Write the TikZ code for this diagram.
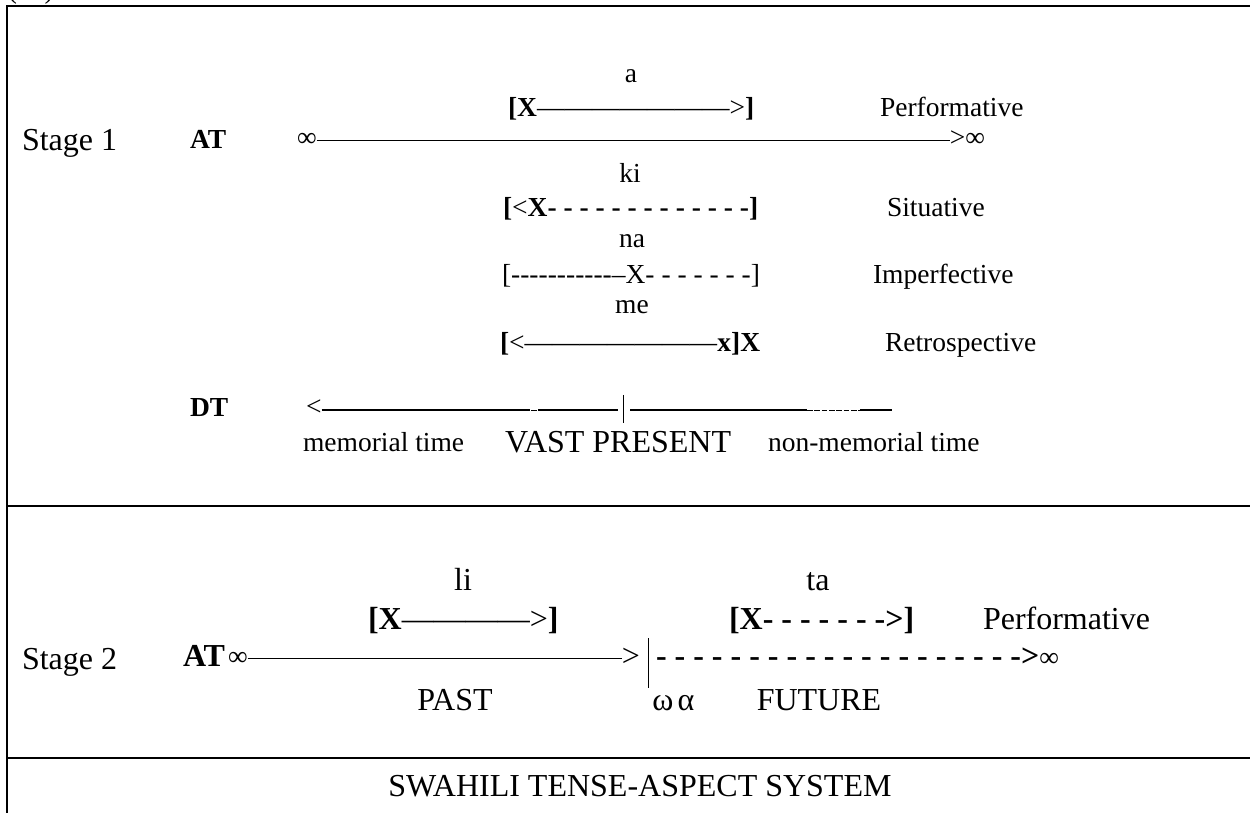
\documentclass[tikz,border=0pt]{standalone}
\usepackage{fontspec}
\setmainfont{Liberation Serif}
\newfontfamily\tnr{Liberation Serif}
\begin{document}
\begin{tikzpicture}[x=0.6pt,y=-0.6pt,
  every node/.style={inner sep=0pt,outer sep=0pt},
  twelve/.style={font=\tnr\fontsize{16.5}{19.8}\selectfont},
  fourteen/.style={font=\tnr\fontsize{19.2}{23}\selectfont},
  lbl/.style={twelve,anchor=base},
  row/.style={twelve,anchor=base west},
  rowb/.style={fourteen,anchor=base west},
  frame/.style={line width=1.2pt},
  tl/.style={line width=0.7pt},
  tick/.style={line width=0.6pt}]
\useasboundingbox (0,0) rectangle (1250,813);
% frame
\draw[frame] (7,813) -- (7,6) -- (1250,6);
\draw[frame] (7,506) -- (1250,506);
\draw[frame] (7,758) -- (1250,758);
\node[twelve,anchor=base west] (num) at (8,-1.5) {(\phantom{00})};
% ---------- Stage 1
\node[rowb] (s1) at (22,151) {Stage 1};
\node[row] (at1) at (190,149) {\textbf{AT}};
\node[row] (inf1) at (297,147) {∞};
\node[twelve,anchor=base east] (inf1r) at (985,147) {>∞};
\draw[tl] (inf1.east) -- (inf1r.west |- inf1.east);
\node[lbl] (la) at (631,83) {a};
\node[row] (r1) at (508,117) {\textbf{[X}———————>\textbf{]}};
\node[row] (p1) at (880,117) {Performative};
\node[lbl] (lki) at (630,183) {ki};
\node[row] (r2) at (503,217) {\textbf{[}<\textbf{X- - - - - - - - - - - - -]}};
\node[row] (p2) at (887,217) {Situative};
\node[lbl] (lna) at (632,248) {na};
\node[row] (r3) at (502,284) {[-----------–X- - - - - - -]};
\node[row] (p3) at (873,284) {Imperfective};
\node[lbl] (lme) at (632,314) {me};
\node[row] (r4) at (500,352) {\textbf{[}<———————\textbf{x]X}};
\node[row] (p4) at (885,352) {Retrospective};
% DT line
\node[row] (dt) at (190,417) {\textbf{DT}};
\node[row] (lt) at (306,416) {<};
\coordinate (d1) at (530,410);
\coordinate (d2) at (538,410);
\coordinate (d3) at (618,410);
\coordinate (bar) at (623,410);
\coordinate (d4) at (630,410);
\coordinate (d5) at (807,410);
\coordinate (d6) at (860,410);
\coordinate (d7) at (892,410);
\draw[tl] (lt.east |- d1) -- (d1);
\draw[line width=0.9pt] ([xshift=0.6pt,yshift=-0.4pt]d1) -- ([xshift=-0.6pt,yshift=-0.4pt]d2);
\draw[tl] (d2) -- (d3);
\draw[tick] ([yshift=9pt]bar) -- ([yshift=-7.8pt]bar);
\draw[tl] (d4) -- (d5);
\draw[line width=0.55pt,dash pattern=on 3.3pt off 1.1pt] (d5) -- (d6);
\draw[tl] (d6) -- (d7);
\node[row] (mt) at (303,452) {memorial time};
\node[rowb] (vp) at (505,453) {VAST PRESENT};
\node[row] (nmt) at (768,452) {non-memorial time};
% ---------- Stage 2
\node[rowb] (s2) at (22,669) {Stage 2};
\node[rowb] (at2) at (183,667) {\textbf{AT}};
\node[row] (inf2) at (228,665) {∞};
\node[fourteen,anchor=base east] (gt2) at (640,667) {>};
\draw[tl] (inf2.east) -- (gt2.west |- inf2.east);
\coordinate (bar2) at (648,660);
\draw[tick] ([yshift=13pt]bar2) -- ([yshift=-17pt]bar2);
\node[rowb] (fut) at (656,667) {\textbf{- - - - - - - - - - - - - - - - - - - ->}};
\node[row] (inf3) at (fut.base east) [anchor=base west] {∞};
\node[fourteen,anchor=base] (lli) at (463,591) {li};
\node[rowb] (b1) at (368,630) {\textbf{[X}————>\textbf{]}};
\node[fourteen,anchor=base] (lta) at (818,591) {ta};
\node[rowb] (b2) at (729,630) {\textbf{[X- - - - - - ->]}};
\node[rowb] (p5) at (983,630) {Performative};
\node[fourteen,anchor=base] (past) at (455,711) {PAST};
\node[fourteen,anchor=base] (om) at (663,711) {ω};
\node[fourteen,anchor=base] (al) at (686,711) {α};
\node[fourteen,anchor=base] (fu) at (819,711) {FUTURE};
\node[fourteen,anchor=base] (title) at (640,797) {SWAHILI TENSE-ASPECT SYSTEM};
\end{tikzpicture}
\end{document}
